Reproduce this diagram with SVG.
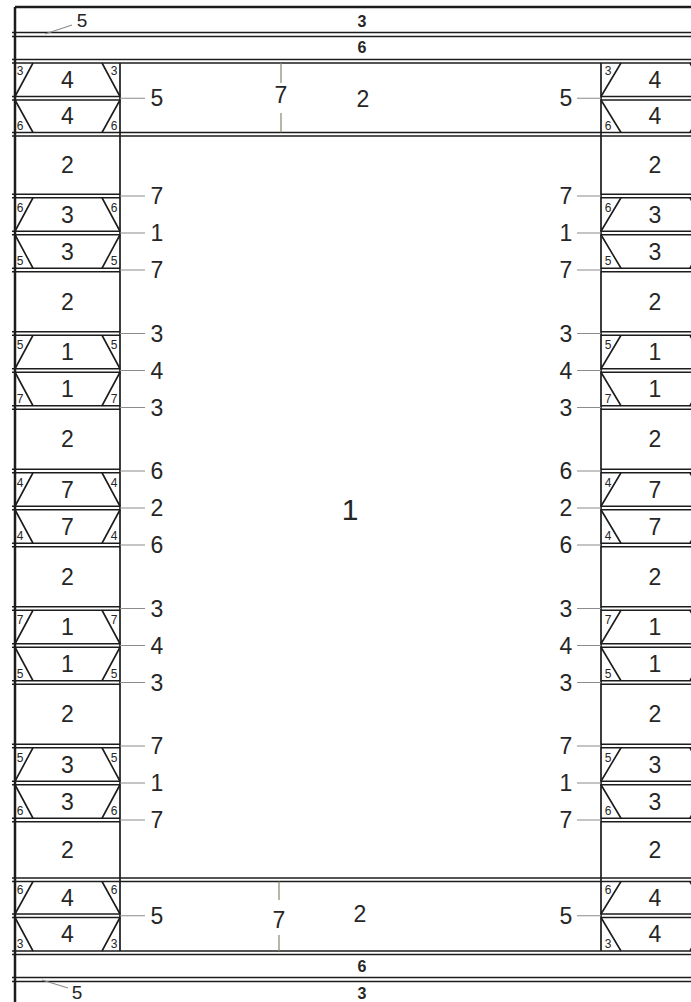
<svg xmlns="http://www.w3.org/2000/svg" width="691" height="1002" viewBox="0 0 691 1002">
<style>
.ln{stroke:#1c1c1c;stroke-width:1.7;fill:none}
.thk{stroke:#1c1c1c;stroke-width:2.5;fill:none}
.dg{stroke:#1c1c1c;stroke-width:1.6;fill:none}
.ld{stroke:#8c8c8c;stroke-width:1.2;fill:none}
.gl{stroke:#7f8c6c;stroke-width:1.2;fill:none}
text{font-family:"Liberation Sans",Arial,sans-serif;fill:#262626;text-anchor:middle}
.b{font-size:23px}
.s{font-size:12px}
.bd{font-size:16px;font-weight:bold}
.a{font-size:19px}
.c{font-size:30px}
</style>
<rect x="0" y="0" width="691" height="1002" fill="#ffffff"/>
<g id="frame">
<path class="thk" d="M15 7V1002 M15 7H691"/>
<path class="ln" d="M120 63V951 M601 63V951"/>
<path class="ln" d="M12 32.5H691 M12 36.5H691 M12 59.5H691 M12 63H691 M12 132.5H691 M12 136H691 M12 878H691 M12 881.5H691 M12 951H691 M12 954.5H691 M12 977.5H691 M12 981.5H691"/>
</g>
<g id="strips">
<text class="bd" x="362" y="26.5">3</text>
<text class="bd" x="362" y="52.5">6</text>
<text class="bd" x="362" y="971.5">6</text>
<text class="bd" x="362" y="999">3</text>
<text class="a" x="82" y="27">5</text>
<text class="a" x="77" y="999">5</text>
</g>
<g id="top-band">
<text class="b" x="281" y="103">7</text>
<text class="b" x="363" y="107">2</text>
</g>
<g id="bottom-band">
<text class="b" x="279" y="928">7</text>
<text class="b" x="360" y="922">2</text>
</g>
<g id="centre">
<text class="c" x="350" y="520">1</text>
</g>
<g id="left-column">
<path class="ln" d="M12 96.5H120 M12 100H120 M12 194.25H120 M12 197.75H120 M12 231.25H120 M12 234.75H120 M12 268.25H120 M12 271.75H120 M12 331.75H120 M12 335.25H120 M12 368.75H120 M12 372.25H120 M12 405.75H120 M12 409.25H120 M12 469.25H120 M12 472.75H120 M12 506.25H120 M12 509.75H120 M12 543.25H120 M12 546.75H120 M12 606.75H120 M12 610.25H120 M12 643.75H120 M12 647.25H120 M12 680.75H120 M12 684.25H120 M12 744.25H120 M12 747.75H120 M12 781.25H120 M12 784.75H120 M12 818.25H120 M12 821.75H120 M12 914H120 M12 917.5H120"/>
<path class="dg" d="M33 63L15 96.5 M102 63L120 96.5 M15 100L33 132.5 M120 100L102 132.5
M33 197.75L15 231.25 M102 197.75L120 231.25 M15 234.75L33 268.25 M120 234.75L102 268.25
M33 335.25L15 368.75 M102 335.25L120 368.75 M15 372.25L33 405.75 M120 372.25L102 405.75
M33 472.75L15 506.25 M102 472.75L120 506.25 M15 509.75L33 543.25 M120 509.75L102 543.25
M33 610.25L15 643.75 M102 610.25L120 643.75 M15 647.25L33 680.75 M120 647.25L102 680.75
M33 747.75L15 781.25 M102 747.75L120 781.25 M15 784.75L33 818.25 M120 784.75L102 818.25
M33 881.5L15 914 M102 881.5L120 914 M15 917.5L33 951 M120 917.5L102 951"/>
<text class="b" x="67.5" y="88">4</text><text class="b" x="67.5" y="124">4</text>
<text class="b" x="67.5" y="173">2</text>
<text class="b" x="67.5" y="222.5">3</text><text class="b" x="67.5" y="259.5">3</text>
<text class="b" x="67.5" y="310">2</text>
<text class="b" x="67.5" y="360">1</text><text class="b" x="67.5" y="397">1</text>
<text class="b" x="67.5" y="447">2</text>
<text class="b" x="67.5" y="497.5">7</text><text class="b" x="67.5" y="534.5">7</text>
<text class="b" x="67.5" y="585">2</text>
<text class="b" x="67.5" y="635">1</text><text class="b" x="67.5" y="672">1</text>
<text class="b" x="67.5" y="722">2</text>
<text class="b" x="67.5" y="772.5">3</text><text class="b" x="67.5" y="809.5">3</text>
<text class="b" x="67.5" y="858">2</text>
<text class="b" x="67.5" y="905.5">4</text><text class="b" x="67.5" y="942">4</text>
<text class="s" x="20" y="75">3</text><text class="s" x="114" y="75">3</text>
<text class="s" x="20" y="130">6</text><text class="s" x="114" y="130">6</text>
<text class="s" x="20" y="211.5">6</text><text class="s" x="114" y="211.5">6</text>
<text class="s" x="20" y="265">5</text><text class="s" x="114" y="265">5</text>
<text class="s" x="20" y="349">5</text><text class="s" x="114" y="349">5</text>
<text class="s" x="20" y="402.5">7</text><text class="s" x="114" y="402.5">7</text>
<text class="s" x="20" y="486.5">4</text><text class="s" x="114" y="486.5">4</text>
<text class="s" x="20" y="540">4</text><text class="s" x="114" y="540">4</text>
<text class="s" x="20" y="624">7</text><text class="s" x="114" y="624">7</text>
<text class="s" x="20" y="677.5">5</text><text class="s" x="114" y="677.5">5</text>
<text class="s" x="20" y="761.5">5</text><text class="s" x="114" y="761.5">5</text>
<text class="s" x="20" y="815">6</text><text class="s" x="114" y="815">6</text>
<text class="s" x="20" y="894">6</text><text class="s" x="114" y="894">6</text>
<text class="s" x="20" y="948">3</text><text class="s" x="114" y="948">3</text>
</g>
<g id="right-column">
<path class="ln" d="M601 96.5H691 M601 100H691 M601 194.25H691 M601 197.75H691 M601 231.25H691 M601 234.75H691 M601 268.25H691 M601 271.75H691 M601 331.75H691 M601 335.25H691 M601 368.75H691 M601 372.25H691 M601 405.75H691 M601 409.25H691 M601 469.25H691 M601 472.75H691 M601 506.25H691 M601 509.75H691 M601 543.25H691 M601 546.75H691 M601 606.75H691 M601 610.25H691 M601 643.75H691 M601 647.25H691 M601 680.75H691 M601 684.25H691 M601 744.25H691 M601 747.75H691 M601 781.25H691 M601 784.75H691 M601 818.25H691 M601 821.75H691 M601 914H691 M601 917.5H691"/>
<path class="dg" d="M621 63L601 96.5 M690 63L708 96.5 M601 100L621 132.5 M708 100L690 132.5
M621 197.75L601 231.25 M690 197.75L708 231.25 M601 234.75L621 268.25 M708 234.75L690 268.25
M621 335.25L601 368.75 M690 335.25L708 368.75 M601 372.25L621 405.75 M708 372.25L690 405.75
M621 472.75L601 506.25 M690 472.75L708 506.25 M601 509.75L621 543.25 M708 509.75L690 543.25
M621 610.25L601 643.75 M690 610.25L708 643.75 M601 647.25L621 680.75 M708 647.25L690 680.75
M621 747.75L601 781.25 M690 747.75L708 781.25 M601 784.75L621 818.25 M708 784.75L690 818.25
M621 881.5L601 914 M690 881.5L708 914 M601 917.5L621 951 M708 917.5L690 951"/>
<text class="b" x="655" y="88">4</text><text class="b" x="655" y="124">4</text>
<text class="b" x="655" y="173">2</text>
<text class="b" x="655" y="222.5">3</text><text class="b" x="655" y="259.5">3</text>
<text class="b" x="655" y="310">2</text>
<text class="b" x="655" y="360">1</text><text class="b" x="655" y="397">1</text>
<text class="b" x="655" y="447">2</text>
<text class="b" x="655" y="497.5">7</text><text class="b" x="655" y="534.5">7</text>
<text class="b" x="655" y="585">2</text>
<text class="b" x="655" y="635">1</text><text class="b" x="655" y="672">1</text>
<text class="b" x="655" y="722">2</text>
<text class="b" x="655" y="772.5">3</text><text class="b" x="655" y="809.5">3</text>
<text class="b" x="655" y="858">2</text>
<text class="b" x="655" y="905.5">4</text><text class="b" x="655" y="942">4</text>
<text class="s" x="608" y="75">3</text>
<text class="s" x="608" y="130">6</text>
<text class="s" x="608" y="211.5">6</text>
<text class="s" x="608" y="265">5</text>
<text class="s" x="608" y="349">5</text>
<text class="s" x="608" y="402.5">7</text>
<text class="s" x="608" y="486.5">4</text>
<text class="s" x="608" y="540">4</text>
<text class="s" x="608" y="624">7</text>
<text class="s" x="608" y="677.5">5</text>
<text class="s" x="608" y="761.5">5</text>
<text class="s" x="608" y="815">6</text>
<text class="s" x="608" y="894">6</text>
<text class="s" x="608" y="948">3</text>
</g>
<g id="connectors">
<path class="ld" d="M45 34L72 25 M42 980L68 988"/>
<path class="gl" d="M281 63V83 M281 113V132.5 M279 881.5V900 M279 935V951"/>
<path class="ld" d="M120 98.25H145 M120 196H145 M120 233H145 M120 270H145 M120 333.5H145 M120 370.5H145 M120 407.5H145 M120 471H145 M120 508H145 M120 545H145 M120 608.5H145 M120 645.5H145 M120 682.5H145 M120 746H145 M120 783H145 M120 820H145 M120 915.75H145"/>
<path class="ld" d="M577 98.25H601 M577 196H601 M577 233H601 M577 270H601 M577 333.5H601 M577 370.5H601 M577 407.5H601 M577 471H601 M577 508H601 M577 545H601 M577 608.5H601 M577 645.5H601 M577 682.5H601 M577 746H601 M577 783H601 M577 820H601 M577 915.75H601"/>
</g>
<g id="labels-left">
<text class="b" x="157" y="106">5</text>
<text class="b" x="157" y="204">7</text><text class="b" x="157" y="241">1</text><text class="b" x="157" y="278">7</text>
<text class="b" x="157" y="341.5">3</text><text class="b" x="157" y="378.5">4</text><text class="b" x="157" y="415.5">3</text>
<text class="b" x="157" y="479">6</text><text class="b" x="157" y="516">2</text><text class="b" x="157" y="553">6</text>
<text class="b" x="157" y="616.5">3</text><text class="b" x="157" y="653.5">4</text><text class="b" x="157" y="690.5">3</text>
<text class="b" x="157" y="754">7</text><text class="b" x="157" y="791">1</text><text class="b" x="157" y="828">7</text>
<text class="b" x="157" y="923.75">5</text>
</g>
<g id="labels-right">
<text class="b" x="566" y="106">5</text>
<text class="b" x="566" y="204">7</text><text class="b" x="566" y="241">1</text><text class="b" x="566" y="278">7</text>
<text class="b" x="566" y="341.5">3</text><text class="b" x="566" y="378.5">4</text><text class="b" x="566" y="415.5">3</text>
<text class="b" x="566" y="479">6</text><text class="b" x="566" y="516">2</text><text class="b" x="566" y="553">6</text>
<text class="b" x="566" y="616.5">3</text><text class="b" x="566" y="653.5">4</text><text class="b" x="566" y="690.5">3</text>
<text class="b" x="566" y="754">7</text><text class="b" x="566" y="791">1</text><text class="b" x="566" y="828">7</text>
<text class="b" x="566" y="923.75">5</text>
</g>
</svg>
